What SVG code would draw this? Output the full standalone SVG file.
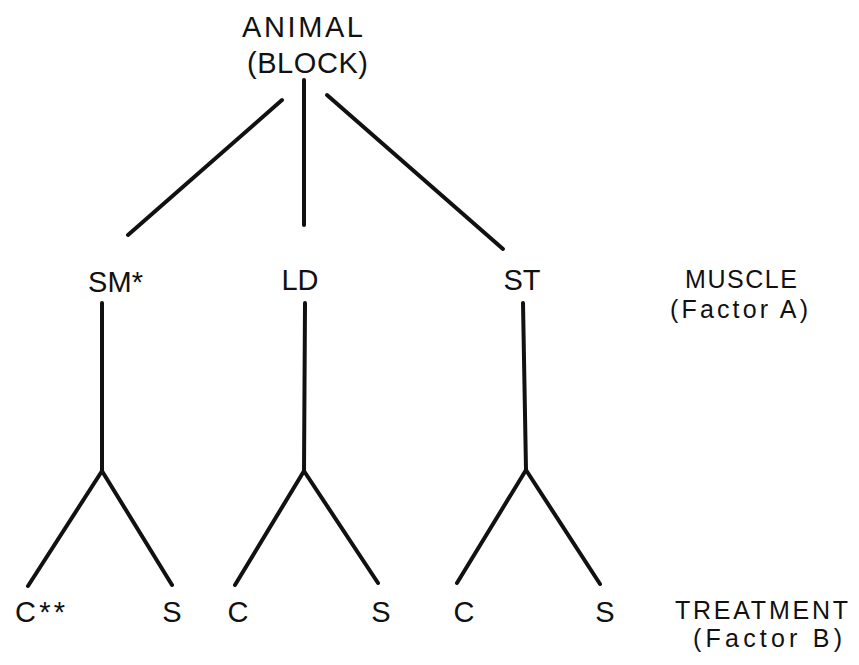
<svg xmlns="http://www.w3.org/2000/svg" width="859" height="665" viewBox="0 0 859 665">
  <style>
    text { font-family: "Liberation Sans", "DejaVu Sans", sans-serif; fill: #111; }
    .lvl { font-size: 29px; }
    .side { font-size: 25px; }
    .edge { stroke: #111; stroke-width: 4; stroke-linecap: round; fill: none; }
  </style>
  <rect width="859" height="665" fill="#fff"/>

  <!-- connectors -->
  <g id="connectors">
    <line class="edge" x1="282" y1="100" x2="128" y2="235"/>
    <line class="edge" x1="304" y1="80" x2="304" y2="225"/>
    <line class="edge" x1="327" y1="95" x2="503" y2="249"/>

    <line class="edge" x1="102" y1="303" x2="102" y2="471"/>
    <line class="edge" x1="102" y1="471" x2="28" y2="586"/>
    <line class="edge" x1="102" y1="471" x2="172" y2="585"/>

    <line class="edge" x1="305" y1="303" x2="304" y2="471"/>
    <line class="edge" x1="304" y1="471" x2="235" y2="585"/>
    <line class="edge" x1="304" y1="471" x2="378" y2="583"/>

    <line class="edge" x1="523" y1="303" x2="526" y2="470"/>
    <line class="edge" x1="526" y1="470" x2="457" y2="583"/>
    <line class="edge" x1="526" y1="470" x2="600" y2="584"/>
  </g>

  <!-- root -->
  <g id="animal">
    <text class="lvl" x="242" y="37" textLength="121" lengthAdjust="spacing">ANIMAL</text>
    <text class="lvl" x="247" y="73" textLength="121" lengthAdjust="spacing">(BLOCK)</text>
  </g>

  <!-- muscles (factor A) -->
  <g id="muscle-sm"><text class="lvl" x="88" y="292" textLength="55" lengthAdjust="spacing">SM*</text></g>
  <g id="muscle-ld"><text class="lvl" x="300" y="290" text-anchor="middle">LD</text></g>
  <g id="muscle-st"><text class="lvl" x="522" y="290" text-anchor="middle">ST</text></g>
  <g id="label-muscle">
    <text class="side" x="685" y="288" textLength="112" lengthAdjust="spacing">MUSCLE</text>
    <text class="side" x="670" y="318" textLength="138" lengthAdjust="spacing">(Factor  A)</text>
  </g>

  <!-- treatments (factor B) -->
  <g id="sm-c"><text class="lvl" x="15" y="622" textLength="50" lengthAdjust="spacing">C**</text></g>
  <g id="sm-s"><text class="lvl" x="172" y="622" text-anchor="middle">S</text></g>
  <g id="ld-c"><text class="lvl" x="238" y="622" text-anchor="middle">C</text></g>
  <g id="ld-s"><text class="lvl" x="381" y="622" text-anchor="middle">S</text></g>
  <g id="st-c"><text class="lvl" x="464" y="622" text-anchor="middle">C</text></g>
  <g id="st-s"><text class="lvl" x="605" y="622" text-anchor="middle">S</text></g>
  <g id="label-treatment">
    <text class="side" x="675" y="619" textLength="173" lengthAdjust="spacing">TREATMENT</text>
    <text class="side" x="693" y="647" textLength="149" lengthAdjust="spacing">(Factor  B)</text>
  </g>
</svg>
